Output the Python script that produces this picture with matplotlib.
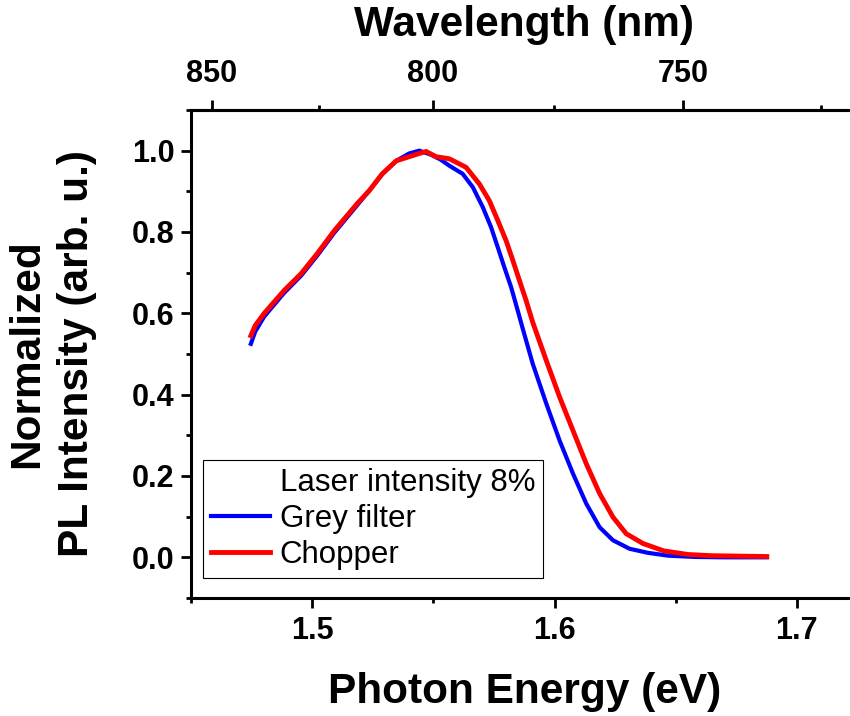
"""PL spectra (grey filter vs chopper) vs photon energy, with wavelength on top."""

import matplotlib

matplotlib.use("Agg")
import matplotlib.pyplot as plt
from matplotlib.ticker import FixedLocator, MultipleLocator

HC = 1239.84  # eV * nm

# Grey filter spectrum
grey_energy = [1.4747, 1.4765, 1.4802, 1.4884, 1.4955, 1.5021, 1.5091, 1.5186,
               1.5236, 1.5289, 1.5347, 1.5400, 1.5442, 1.5490, 1.5530, 1.5566,
               1.5621, 1.5663, 1.5704, 1.5738, 1.5766, 1.5793, 1.5821, 1.5848,
               1.5869, 1.5910, 1.5966, 1.6021, 1.6076, 1.6131, 1.6186, 1.6241,
               1.6310, 1.6386, 1.6470, 1.6580, 1.6700, 1.6876]
grey_intensity = [0.525, 0.555, 0.592, 0.650, 0.693, 0.742, 0.798, 0.866,
                  0.902, 0.942, 0.975, 0.993, 1.000, 0.990, 0.978, 0.963,
                  0.943, 0.910, 0.861, 0.812, 0.762, 0.713, 0.664, 0.607,
                  0.562, 0.476, 0.378, 0.287, 0.206, 0.132, 0.074, 0.042,
                  0.021, 0.011, 0.004, 0.001, 0.000, 0.000]

# Chopper spectrum
chopper_energy = [1.4747, 1.4765, 1.4802, 1.4884, 1.4955, 1.5021, 1.5091, 1.5186,
                  1.5236, 1.5289, 1.5347, 1.5442, 1.5470, 1.5512, 1.5566, 1.5635,
                  1.5690, 1.5731, 1.5766, 1.5800, 1.5828, 1.5855, 1.5883, 1.5910,
                  1.5966, 1.6021, 1.6076, 1.6131, 1.6186, 1.6241, 1.6296, 1.6365,
                  1.6450, 1.6550, 1.6650, 1.6876]
chopper_intensity = [0.545, 0.570, 0.600, 0.656, 0.698, 0.747, 0.803, 0.870,
                     0.902, 0.943, 0.975, 0.993, 0.998, 0.985, 0.980, 0.959,
                     0.918, 0.877, 0.828, 0.779, 0.730, 0.681, 0.631, 0.578,
                     0.484, 0.394, 0.312, 0.230, 0.157, 0.099, 0.058, 0.034,
                     0.016, 0.007, 0.004, 0.002]

energy_ticks = [1.5, 1.6, 1.7]
wavelength_ticks = [850, 800, 750]
wavelength_minor = [825, 775, 725]

plt.rcParams["font.family"] = ["Liberation Sans", "DejaVu Sans"]

TICK_SIZE = 22
LABEL_SIZE = 30.5

fig = plt.figure(figsize=(8.5, 7.16), dpi=100)
ax = fig.add_axes([0.2247, 0.1648, 0.7841, 0.6816])

ax.plot(grey_energy, grey_intensity, color="#0000ff", linewidth=3.0, label="Grey filter")
ax.plot(chopper_energy, chopper_intensity, color="#ff0000", linewidth=3.5, label="Chopper")
# Legend header entry without a line
ax.plot([], [], color="none", label="Laser intensity 8%")

ax.set_xlim(1.45, 1.725)
ax.set_ylim(-0.1, 1.1)
ax.set_xticks(energy_ticks)
ax.xaxis.set_minor_locator(MultipleLocator(0.05))
ax.yaxis.set_major_locator(MultipleLocator(0.2))
ax.yaxis.set_minor_locator(MultipleLocator(0.1))

for side in ("left", "bottom", "top"):
    ax.spines[side].set_linewidth(2.2)
ax.spines["right"].set_visible(False)

ax.tick_params(which="major", direction="out", length=7, width=2.0,
               labelsize=TICK_SIZE, pad=5)
ax.tick_params(which="minor", direction="out", length=3.5, width=2.0)
ax.tick_params(axis="x", which="major", pad=6)
for lbl in ax.get_xticklabels() + ax.get_yticklabels():
    lbl.set_fontweight("bold")

ax.set_xlabel("Photon Energy (eV)", fontsize=LABEL_SIZE, fontweight="bold", labelpad=19)
ax.set_ylabel("Normalized\nPL Intensity (arb. u.)", fontsize=LABEL_SIZE, fontweight="bold",
              labelpad=25, linespacing=1.3)

# Wavelength axis on top
top = ax.secondary_xaxis("top", functions=(lambda e: HC / e, lambda w: HC / w))
top.set_xticks(wavelength_ticks)
top.xaxis.set_minor_locator(FixedLocator(wavelength_minor))
top.spines["top"].set_linewidth(2.2)
top.tick_params(which="major", direction="out", length=7, width=2.0,
                labelsize=TICK_SIZE, pad=8)
top.tick_params(which="minor", direction="out", length=3.5, width=2.0)
for lbl in top.get_xticklabels():
    lbl.set_fontweight("bold")
top.set_xlabel("Wavelength (nm)", fontsize=LABEL_SIZE, fontweight="bold", labelpad=17)

handles, labels = ax.get_legend_handles_labels()
order = [2, 0, 1]
leg = ax.legend([handles[i] for i in order], [labels[i] for i in order],
                loc="lower left", bbox_to_anchor=(0.018, 0.041), borderaxespad=0,
                fontsize=22.5, frameon=True, fancybox=False, edgecolor="black",
                framealpha=1, handlelength=1.9, handletextpad=0.3,
                labelspacing=0.2, borderpad=0.25)
leg.get_frame().set_linewidth(0.8)

fig.savefig("out.png", dpi=100)
